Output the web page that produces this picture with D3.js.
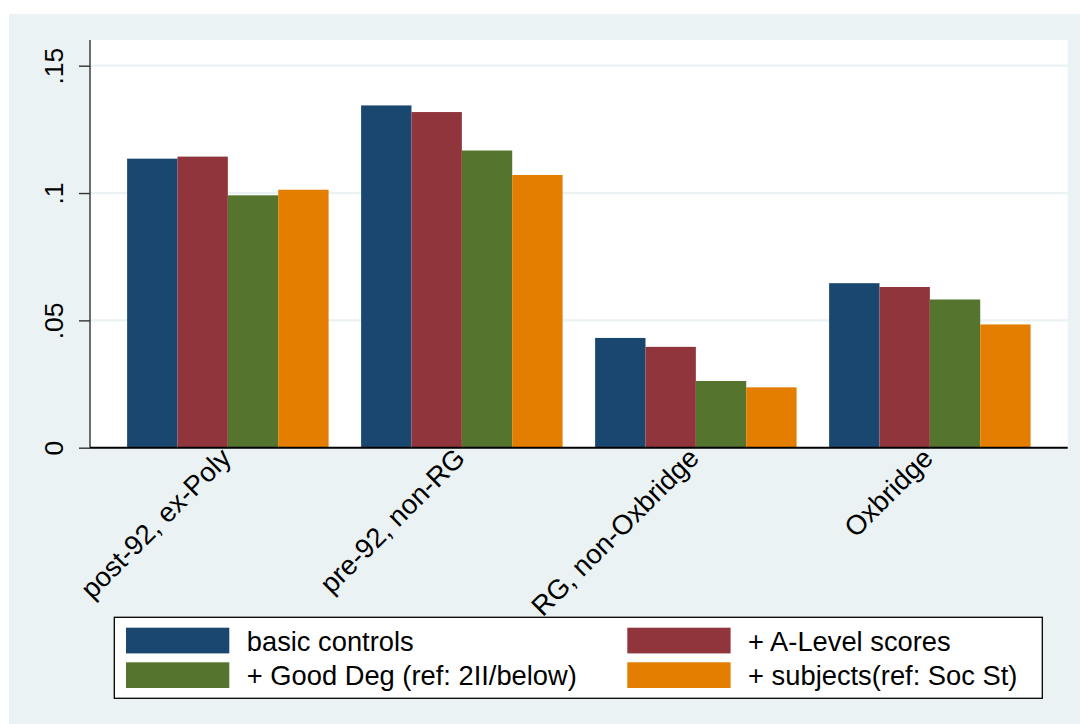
<!DOCTYPE html>
<html>
<head>
<meta charset="utf-8">
<script src="https://cdn.jsdelivr.net/npm/d3@7"></script>
<style>
  html, body { margin: 0; padding: 0; background: #fff; }
  svg { display: block; font-family: "Liberation Sans", Arial, sans-serif; }
</style>
</head>
<body>
<script>
// data
const categories = ['post-92, ex-Poly', 'pre-92, non-RG', 'RG, non-Oxbridge', 'Oxbridge'];
const seriesNames = ['basic controls', '+ A-Level scores', '+ Good Deg (ref: 2II/below)', '+ subjects(ref: Soc St)'];
const basicControls = [0.1135, 0.1344, 0.0431, 0.0646];
const aLevel = [0.1143, 0.1318, 0.0396, 0.0631];
const goodDeg = [0.0991, 0.1167, 0.0262, 0.0582];
const subjects = [0.1013, 0.1071, 0.0237, 0.0484];
const yTicks = [0, 0.05, 0.1, 0.15];
const yTickLabels = ['0', '.05', '.1', '.15'];

const seriesValues = [basicControls, aLevel, goodDeg, subjects];
const colors = ['#1A476F', '#90353B', '#55752F', '#E37E00'];

const W = 1080, H = 724;
const plot = { left: 90, right: 1067.7, top: 40, bottom: 447.7 };

const svg = d3.select('body').append('svg')
    .attr('width', W)
    .attr('height', H);

// outer background (stata style)
svg.append('rect')
    .attr('x', 9).attr('y', 14)
    .attr('width', W - 9).attr('height', H - 14)
    .attr('fill', '#EAF2F3');

svg.append('rect')
    .attr('x', plot.left).attr('y', plot.top)
    .attr('width', plot.right - plot.left)
    .attr('height', plot.bottom - plot.top)
    .attr('fill', '#fff');

const x = d3.scaleBand()
    .domain(categories)
    .range([plot.left, plot.right])
    .paddingInner(0.139)
    .paddingOuter(0.1586);

const xs = d3.scaleBand()
    .domain(d3.range(seriesNames.length))
    .range([0, x.bandwidth()])
    .padding(0);

const y = d3.scaleLinear()
    .domain([0, 0.15])
    .range([plot.bottom, 65.7]);

// grid lines
svg.append('g')
    .selectAll('line')
    .data(yTicks.filter(d => d > 0))
    .join('line')
    .attr('x1', plot.left).attr('x2', plot.right)
    .attr('y1', d => y(d)).attr('y2', d => y(d))
    .attr('stroke', '#EAF2F3')
    .attr('stroke-width', 2.2);

// bars
const groups = svg.append('g')
    .selectAll('g')
    .data(categories)
    .join('g')
    .attr('transform', d => `translate(${x(d)},0)`);

groups.selectAll('rect')
    .data((d, i) => seriesValues.map((s, k) => ({ k: k, v: s[i] })))
    .join('rect')
    .attr('x', d => xs(d.k))
    .attr('width', xs.bandwidth())
    .attr('y', d => y(d.v))
    .attr('height', d => y(0) - y(d.v))
    .attr('fill', d => colors[d.k]);

// y axis
const yAxis = svg.append('g')
    .attr('transform', `translate(${plot.left},0)`)
    .call(d3.axisLeft(y)
        .tickValues(yTicks)
        .tickFormat((d, i) => yTickLabels[i])
        .tickSize(11)
        .tickSizeOuter(0));

yAxis.select('.domain').remove();
yAxis.selectAll('.tick line')
    .attr('stroke', '#333')
    .attr('stroke-width', 1.4);
yAxis.selectAll('.tick text')
    .attr('transform', 'rotate(-90)')
    .attr('x', 0)
    .attr('y', -27.5)
    .attr('dy', 0)
    .attr('text-anchor', 'middle')
    .attr('fill', '#000')
    .style('font-size', '26.5px');

svg.append('line')
    .attr('x1', plot.left).attr('x2', plot.left)
    .attr('y1', plot.top).attr('y2', plot.bottom)
    .attr('stroke', '#333')
    .attr('stroke-width', 1.4);

// x axis line and labels
svg.append('line')
    .attr('x1', plot.left).attr('x2', plot.right)
    .attr('y1', plot.bottom).attr('y2', plot.bottom)
    .attr('stroke', '#000')
    .attr('stroke-width', 2);

svg.append('g')
    .selectAll('text')
    .data(categories)
    .join('text')
    .attr('transform', d => `translate(${x(d) + x.bandwidth() / 2 - 2},453) rotate(-45)`)
    .attr('text-anchor', 'end')
    .attr('dy', '0.35em')
    .style('font-size', '27.5px')
    .attr('fill', '#000')
    .text(d => d);

// legend
const legend = svg.append('g');
legend.append('rect')
    .attr('x', 114.3).attr('y', 617.3)
    .attr('width', 1042.3 - 114.3)
    .attr('height', 698.3 - 617.3)
    .attr('fill', '#fff')
    .attr('stroke', '#000')
    .attr('stroke-width', 1.3);

const colX = [126, 627.3];
const rowY = [627.7, 662.3];

const items = legend.selectAll('g.item')
    .data(seriesNames)
    .join('g')
    .attr('class', 'item')
    .attr('transform', (d, i) => `translate(${colX[i % 2]},${rowY[Math.floor(i / 2)]})`);

items.append('rect')
    .attr('width', 103.3)
    .attr('height', 25.7)
    .attr('fill', (d, i) => colors[i]);

items.append('text')
    .attr('x', 120.8)
    .attr('y', 22.8)
    .style('font-size', '27.3px')
    .attr('fill', '#000')
    .text(d => d);
</script>
</body>
</html>
